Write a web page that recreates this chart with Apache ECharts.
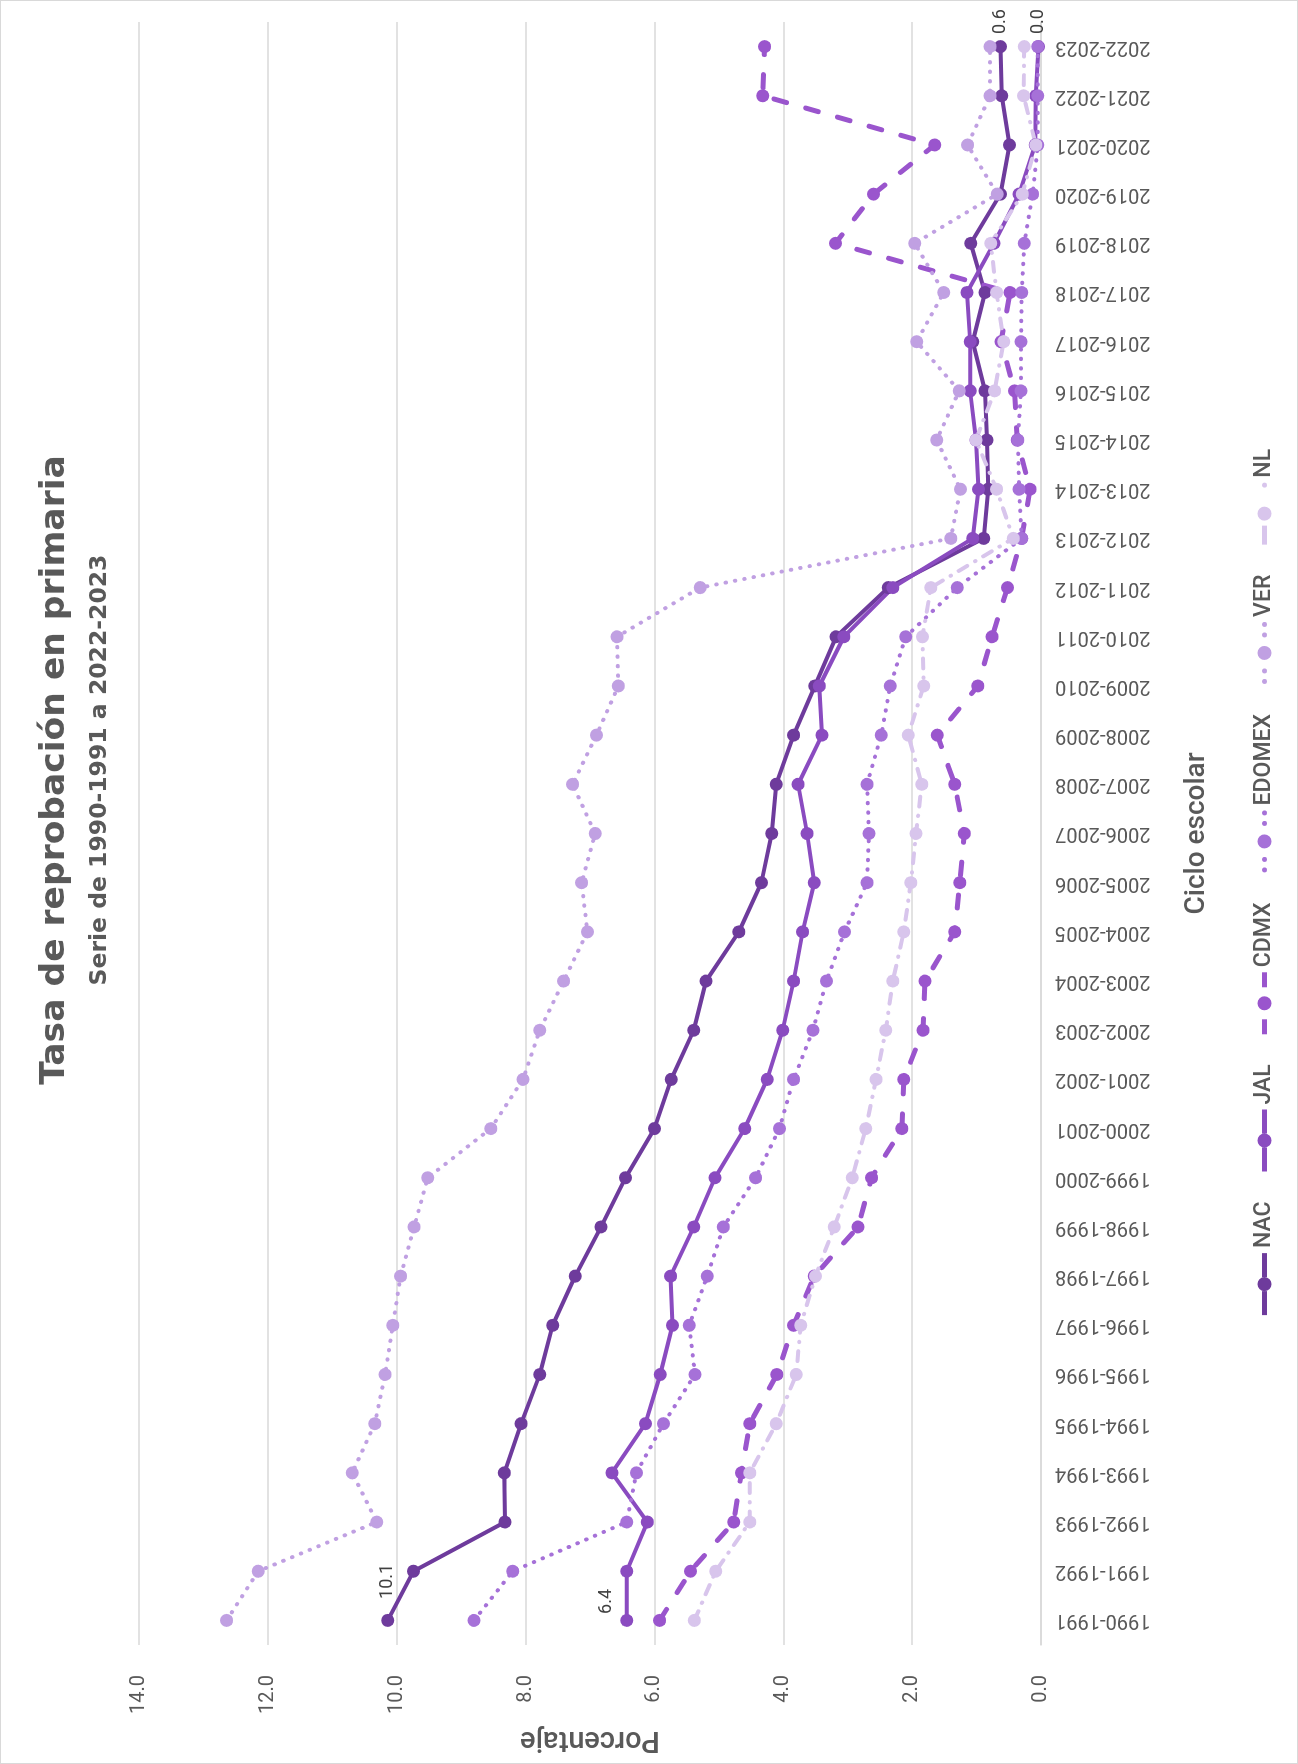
<!DOCTYPE html>
<html>
<head>
<meta charset="utf-8">
<script src="https://cdn.jsdelivr.net/npm/echarts@6/dist/echarts.min.js"></script>
<style>
  html, body { margin: 0; padding: 0; background: #ffffff; width: 1298px; height: 1764px; overflow: hidden; }
  #wrap {
    position: absolute; left: 0; top: 0;
    width: 1764px; height: 1298px;
    box-sizing: border-box; border: 1px solid #d9d9d9;
    background: #ffffff;
    transform-origin: 0 0;
    transform: translateY(1764px) rotate(-90deg);
  }
  #chart { width: 1762px; height: 1296px; }
</style>
</head>
<body>
<div id="wrap"><div id="chart"></div></div>
<script>
const categories = ['1990-1991','1991-1992','1992-1993','1993-1994','1994-1995','1995-1996','1996-1997','1997-1998','1998-1999','1999-2000','2000-2001','2001-2002','2002-2003','2003-2004','2004-2005','2005-2006','2006-2007','2007-2008','2008-2009','2009-2010','2010-2011','2011-2012','2012-2013','2013-2014','2014-2015','2015-2016','2016-2017','2017-2018','2018-2019','2019-2020','2020-2021','2021-2022','2022-2023'];
const nac    = [10.14, 9.74, 8.32, 8.33, 8.07, 7.78, 7.58, 7.23, 6.83, 6.45, 6.00, 5.74, 5.39, 5.20, 4.69, 4.34, 4.18, 4.11, 3.84, 3.51, 3.18, 2.37, 0.89, 0.82, 0.84, 0.87, 1.06, 0.87, 1.09, 0.63, 0.49, 0.61, 0.63];
const jal    = [6.43, 6.43, 6.11, 6.66, 6.14, 5.91, 5.72, 5.75, 5.39, 5.06, 4.60, 4.25, 4.01, 3.84, 3.70, 3.52, 3.63, 3.77, 3.40, 3.44, 3.06, 2.30, 1.06, 0.97, 1.01, 1.10, 1.10, 1.15, 0.73, 0.34, 0.09, 0.08, 0.04];
const cdmx   = [5.92, 5.44, 4.77, 4.65, 4.52, 4.10, 3.84, 3.52, 2.84, 2.63, 2.16, 2.13, 1.83, 1.80, 1.34, 1.26, 1.19, 1.34, 1.61, 0.98, 0.76, 0.52, 0.30, 0.17, 0.37, 0.41, 0.62, 0.48, 3.19, 2.60, 1.65, 4.32, 4.29];
const edomex = [8.80, 8.20, 6.43, 6.28, 5.86, 5.37, 5.46, 5.18, 4.93, 4.43, 4.06, 3.84, 3.54, 3.33, 3.05, 2.70, 2.67, 2.70, 2.48, 2.34, 2.10, 1.30, 0.30, 0.34, 0.36, 0.31, 0.31, 0.30, 0.26, 0.13, 0.05, 0.05, 0.05];
const ver    = [12.64, 12.15, 10.31, 10.69, 10.34, 10.18, 10.06, 9.94, 9.73, 9.52, 8.54, 8.04, 7.78, 7.41, 7.04, 7.13, 6.92, 7.27, 6.90, 6.56, 6.58, 5.29, 1.40, 1.25, 1.62, 1.27, 1.93, 1.51, 1.96, 0.68, 1.14, 0.79, 0.79];
const nl     = [5.38, 5.05, 4.52, 4.52, 4.11, 3.80, 3.73, 3.50, 3.21, 2.93, 2.72, 2.56, 2.41, 2.30, 2.13, 2.02, 1.94, 1.85, 2.06, 1.82, 1.84, 1.71, 0.43, 0.69, 1.01, 0.72, 0.58, 0.69, 0.78, 0.29, 0.08, 0.27, 0.26];
const seriesNames = ['NAC', 'JAL', 'CDMX', 'EDOMEX', 'VER', 'NL'];
const valueTicks = [0, 2, 4, 6, 8, 10, 12, 14];

const FONT = 'Roboto, "Noto Sans", sans-serif';
const TITLE_FONT = '"DejaVu Sans", Roboto, sans-serif';
const GRAY = '#595959';

// legend icon shapes (62 x 14 box): line pieces + central marker
const CIRCLE = 'M24,7A7,7 0 1,1 38,7A7,7 0 1,1 24,7Z';
const dot = x => 'M' + (x - 2.5) + ',7A2.5,2.5 0 1,1 ' + (x + 2.5) + ',7A2.5,2.5 0 1,1 ' + (x - 2.5) + ',7Z';
const ICONS = {
  solid: 'path://M0,4.5H24V9.5H0Z M38,4.5H62V9.5H38Z ' + CIRCLE,
  dashed: 'path://M0,4.5H15V9.5H0Z M47,4.5H62V9.5H47Z ' + CIRCLE,
  dotted: 'path://' + dot(2.5) + ' ' + dot(13) + ' ' + CIRCLE + ' ' + dot(49) + ' ' + dot(59.5),
  dashdot: 'path://M0,4.5H19V9.5H0Z ' + CIRCLE + ' ' + dot(59.5)
};

const labelBase = { show: true, position: 'right', fontSize: 18, color: '#404040', fontFamily: FONT,
  formatter: p => Number(p.value).toFixed(1) };

function withLabels(arr, first, last) {
  const n = arr.length - 1;
  return arr.map((v, i) => {
    if (i === 0 && first) return { value: v, label: Object.assign({}, labelBase, first) };
    if (i === n && last) return { value: v, label: Object.assign({}, labelBase, last) };
    return v;
  });
}

function line(name, data, color, lineType, width) {
  return {
    name, type: 'line', data,
    symbol: 'circle', symbolSize: 13, showAllSymbol: true,
    itemStyle: { color },
    lineStyle: { color, width, type: lineType, cap: 'round', join: 'round' },
    emphasis: { disabled: true },
    animation: false
  };
}

const chart = echarts.init(document.getElementById('chart'), null, { renderer: 'canvas' });
chart.setOption({
  backgroundColor: '#ffffff',
  textStyle: { fontFamily: FONT },
  title: [
    { text: 'Tasa de reprobación en primaria', left: 988, top: 32, textAlign: 'center',
      textStyle: { fontSize: 34.5, fontWeight: 'bold', color: GRAY, fontFamily: TITLE_FONT } },
    { text: 'Serie de 1990-1991 a 2022-2023', left: 988, top: 82, textAlign: 'center',
      textStyle: { fontSize: 23.5, fontWeight: 'bold', color: GRAY, fontFamily: TITLE_FONT } }
  ],
  legend: {
    data: [
      { name: 'NAC', icon: ICONS.solid },
      { name: 'JAL', icon: ICONS.solid },
      { name: 'CDMX', icon: ICONS.dashed },
      { name: 'EDOMEX', icon: ICONS.dotted },
      { name: 'VER', icon: ICONS.dotted },
      { name: 'NL', icon: ICONS.dashdot }
    ],
    left: 'center', top: 1247,
    itemWidth: 62, itemHeight: 14, itemGap: 30,
    textStyle: { fontSize: 23, color: GRAY, fontWeight: 500, fontFamily: FONT }
  },
  grid: { left: 118, right: 21, top: 138, bottom: 256 },
  xAxis: {
    type: 'category', data: categories, boundaryGap: true,
    axisLine: { show: true, lineStyle: { color: '#d9d9d9', width: 1.5 } },
    axisTick: { show: false },
    axisLabel: { rotate: 90, fontSize: 20, color: GRAY, margin: 14, interval: 0, fontFamily: FONT },
    name: 'Ciclo escolar', nameLocation: 'middle', nameGap: 142,
    nameTextStyle: { fontSize: 28, color: GRAY, fontWeight: 500, fontFamily: FONT }
  },
  yAxis: {
    type: 'value', min: valueTicks[0], max: valueTicks[valueTicks.length - 1], interval: 2,
    axisLine: { show: false }, axisTick: { show: false },
    splitLine: { lineStyle: { color: '#d9d9d9', width: 1.5 } },
    axisLabel: { fontSize: 20, color: GRAY, margin: 30, formatter: v => v.toFixed(1), fontFamily: FONT },
    name: 'Porcentaje', nameLocation: 'middle', nameGap: 75,
    nameTextStyle: { fontSize: 29, color: GRAY, fontWeight: 500, fontFamily: FONT }
  },
  series: [
    line('NAC', withLabels(nac, { distance: 15 }, { distance: 6 }), '#6e3b9c', 'solid', 4),
    line('JAL', withLabels(jal, { distance: 0, offset: [0, -20] }, { distance: 6 }), '#8a4bc0', 'solid', 4),
    line('CDMX', cdmx, '#9a55cd', [13, 20], 5),
    line('EDOMEX', edomex, '#a671d8', [0.5, 9], 4),
    line('VER', ver, '#c0a0e2', [0.5, 9], 4),
    line('NL', nl, '#d8c5ec', [10, 9, 0.5, 9], 4)
  ]
});
</script>
</body>
</html>
